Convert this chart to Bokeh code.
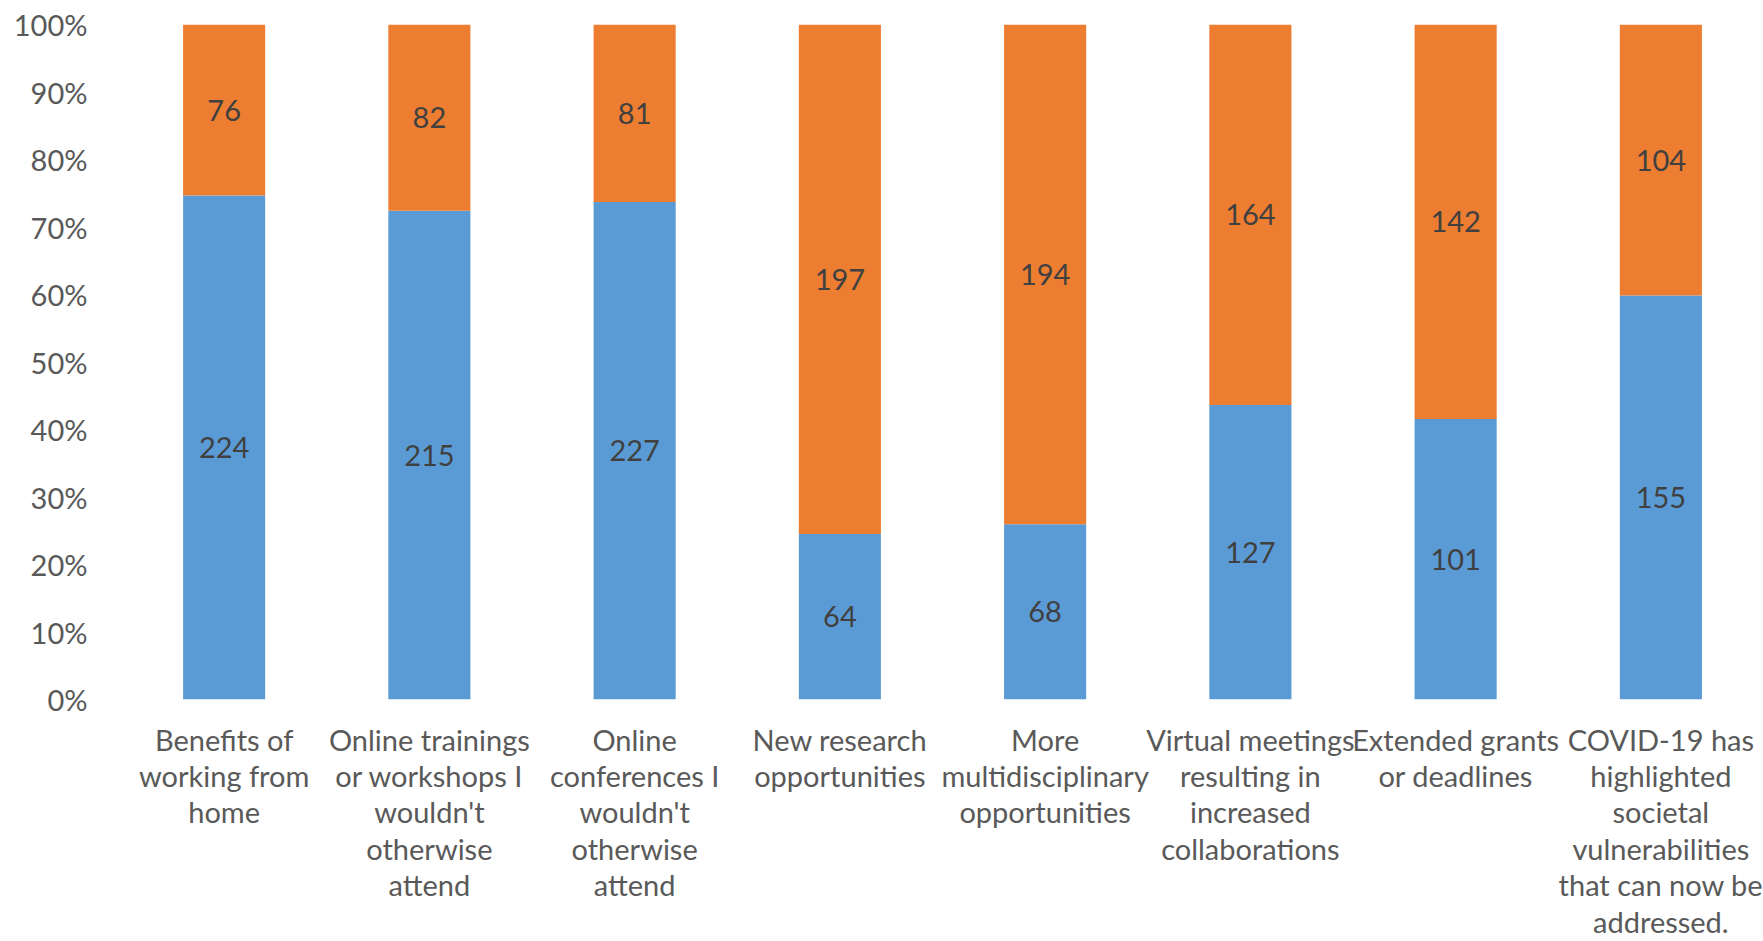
from bokeh.plotting import figure
from bokeh.models import ColumnDataSource, FactorRange, Range1d, NumeralTickFormatter, FixedTicker
from bokeh.core.properties import value
from bokeh.embed import file_html
from bokeh.resources import INLINE

categories = [
    "Benefits of\nworking from\nhome",
    "Online trainings\nor workshops I\nwouldn't\notherwise\nattend",
    "Online\nconferences I\nwouldn't\notherwise\nattend",
    "New research\nopportunities",
    "More\nmultidisciplinary\nopportunities",
    "Virtual meetings\nresulting in\nincreased\ncollaborations",
    "Extended grants\nor deadlines",
    "COVID-19 has\nhighlighted\nsocietal\nvulnerabilities\nthat can now be\naddressed.",
]
blue_counts = [224, 215, 227, 64, 68, 127, 101, 155]
orange_counts = [76, 82, 81, 197, 194, 164, 142, 104]
y_ticks = [0, 0.1, 0.2, 0.3, 0.4, 0.5, 0.6, 0.7, 0.8, 0.9, 1.0]

BLUE = "#5B9BD5"
ORANGE = "#ED7D31"
FONT = "Lato"

totals = [b + o for b, o in zip(blue_counts, orange_counts)]
blue_frac = [b / t for b, t in zip(blue_counts, totals)]
orange_frac = [o / t for o, t in zip(orange_counts, totals)]

src = ColumnDataSource(dict(cat=categories, blue=blue_frac, orange=orange_frac))

p = figure(
    x_range=FactorRange(factors=categories, range_padding=0),
    y_range=Range1d(0, 1),
    width=1763, height=941,
    output_backend="svg", toolbar_location=None,
    min_border_left=121, min_border_right=0, min_border_top=24, min_border_bottom=241,
)
p.vbar_stack(["blue", "orange"], x="cat", width=0.4, source=src,
             color=[BLUE, ORANGE], line_color=None)

lbl = ColumnDataSource(dict(
    x=categories + categories,
    y=[b / 2 for b in blue_frac] + [b + o / 2 for b, o in zip(blue_frac, orange_frac)],
    t=[str(v) for v in blue_counts] + [str(v) for v in orange_counts],
))
p.text(x="x", y="y", text="t", source=lbl, text_align="center", text_baseline="middle",
       text_font=value(FONT), text_font_size="29px", text_color="#404040")

p.yaxis.ticker = FixedTicker(ticks=y_ticks)
p.yaxis.formatter = NumeralTickFormatter(format="0%")
for ax in (p.xaxis[0], p.yaxis[0]):
    ax.axis_line_color = None
    ax.major_tick_line_color = None
    ax.minor_tick_line_color = None
    ax.major_label_text_font = FONT
    ax.major_label_text_font_size = "29px"
    ax.major_label_text_color = "#595959"
p.yaxis.major_label_standoff = 28
p.xaxis.major_label_standoff = 16
p.xaxis.major_label_text_line_height = 1.04
p.xgrid.grid_line_color = None
p.ygrid.grid_line_color = None
p.outline_line_color = None
p.background_fill_color = "white"
p.border_fill_color = "white"

open("out.html", "w").write(file_html(p, INLINE))
